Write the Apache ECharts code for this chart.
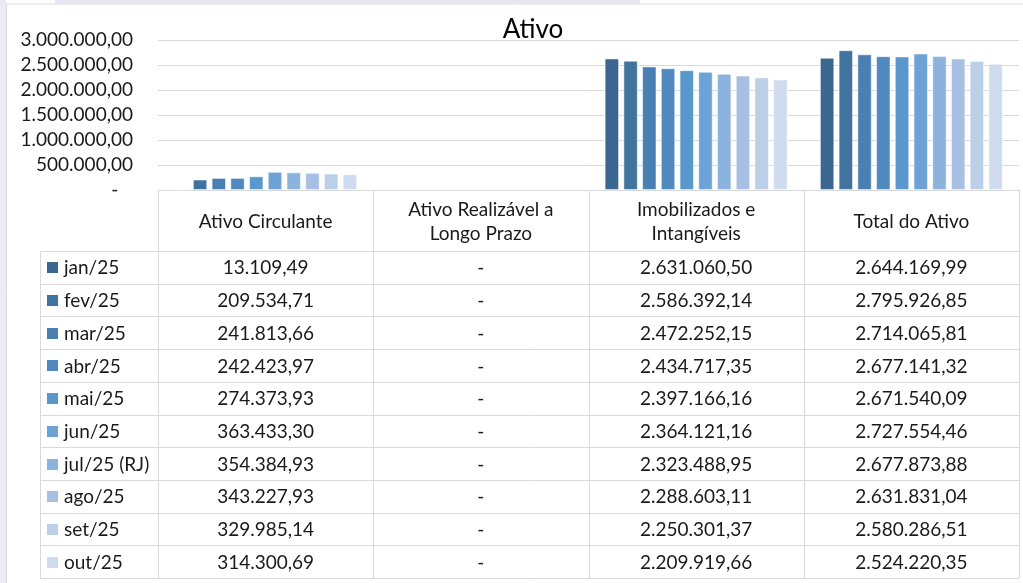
<!DOCTYPE html>
<html>
<head>
<meta charset="utf-8">
<script src="https://cdn.jsdelivr.net/npm/echarts@6/dist/echarts.min.js"></script>
<style>
  html, body { margin: 0; padding: 0; background: #fff; }
  #main { width: 1023px; height: 583px; }
</style>
</head>
<body>
<div id="main"></div>
<script>
  // categorias (colunas da tabela)
  var categorias = ['Ativo Circulante', 'Ativo Realizável a\nLongo Prazo', 'Imobilizados e\nIntangíveis', 'Total do Ativo'];
  var meses = ['jan/25', 'fev/25', 'mar/25', 'abr/25', 'mai/25', 'jun/25', 'jul/25 (RJ)', 'ago/25', 'set/25', 'out/25'];
  var circulante = [13109.49, 209534.71, 241813.66, 242423.97, 274373.93, 363433.30, 354384.93, 343227.93, 329985.14, 314300.69];
  var realizavel = [null, null, null, null, null, null, null, null, null, null];
  var imobilizados = [2631060.50, 2586392.14, 2472252.15, 2434717.35, 2397166.16, 2364121.16, 2323488.95, 2288603.11, 2250301.37, 2209919.66];
  var total = [2644169.99, 2795926.85, 2714065.81, 2677141.32, 2671540.09, 2727554.46, 2677873.88, 2631831.04, 2580286.51, 2524220.35];
  var cores = ['#3a6690', '#41739f', '#4a7fb2', '#4f89bf', '#5898cd', '#6ca2d6', '#8cb3de', '#a6bfe3', '#bccfe9', '#cfdbee'];

  var fonte = 'Lato';
  var tam = 19;
  var linha = '#d9d9d9';

  // formato pt-BR: 1.234.567,89  (zero/nulo vira "-")
  function fmt(v) {
    if (v === null || v === 0) return '-';
    var s = v.toFixed(2).split('.');
    var int = s[0].replace(/\B(?=(\d{3})+(?!\d))/g, '.');
    return int + ',' + s[1];
  }

  var gLeft = 158, gRight = 1019, gTop = 40, gBottom = 190;
  var colW = (gRight - gLeft) / categorias.length;
  var headTop = 190, rowTop = 251, rowBottom = 578, labelLeft = 40;
  var rowH = (rowBottom - rowTop) / meses.length;

  var g = [];
  // borda do gráfico / fundo
  g.push({type: 'rect', shape: {x: 0, y: 0, width: 6, height: 583}, style: {fill: '#ebebf2'}, silent: true});
  g.push({type: 'rect', shape: {x: 55, y: 0, width: 585, height: 3}, style: {fill: '#e6e6f0'}, silent: true});
  g.push({type: 'line', shape: {x1: 6, y1: 4, x2: 1023, y2: 4}, style: {stroke: linha, lineWidth: 1}, silent: true});
  g.push({type: 'line', shape: {x1: 6.5, y1: 4, x2: 6.5, y2: 583}, style: {stroke: linha, lineWidth: 1}, silent: true});

  // linhas da tabela
  g.push({type: 'line', shape: {x1: gLeft, y1: headTop + 0.5, x2: gRight, y2: headTop + 0.5}, style: {stroke: linha}});
  for (var i = 0; i <= meses.length; i++) {
    var y = Math.round(rowTop + i * rowH) + 0.5;
    g.push({type: 'line', shape: {x1: labelLeft, y1: y, x2: gRight, y2: y}, style: {stroke: linha}});
  }
  g.push({type: 'line', shape: {x1: labelLeft + 0.5, y1: rowTop, x2: labelLeft + 0.5, y2: rowBottom}, style: {stroke: linha}});
  for (var c = 0; c <= categorias.length; c++) {
    var x = Math.round(gLeft + c * colW) + 0.5;
    g.push({type: 'line', shape: {x1: x, y1: headTop, x2: x, y2: rowBottom}, style: {stroke: linha}});
  }
  // cabeçalho
  categorias.forEach(function (cat, c) {
    g.push({type: 'text', x: gLeft + (c + 0.5) * colW, y: (headTop + rowTop) / 2 + 1,
      style: {text: cat, font: tam + 'px ' + fonte, fill: '#1a1a1a', align: 'center', verticalAlign: 'middle', lineHeight: 24}});
  });
  // linhas de dados
  var colunas = [circulante, realizavel, imobilizados, total];
  meses.forEach(function (m, i) {
    var cy = rowTop + (i + 0.5) * rowH + 1;
    g.push({type: 'rect', shape: {x: 47, y: Math.round(cy - 6), width: 11, height: 11}, style: {fill: cores[i]}});
    g.push({type: 'text', x: 64, y: cy, style: {text: m, font: tam + 'px ' + fonte, fill: '#1a1a1a', align: 'left', verticalAlign: 'middle'}});
    colunas.forEach(function (col, c) {
      g.push({type: 'text', x: gLeft + (c + 0.5) * colW, y: cy,
        style: {text: fmt(col[i]), font: tam + 'px ' + fonte, fill: '#1a1a1a', align: 'center', verticalAlign: 'middle'}});
    });
  });

  var series = meses.map(function (m, i) {
    return {
      name: m,
      type: 'bar',
      data: [circulante[i], realizavel[i], imobilizados[i], total[i]],
      itemStyle: {color: cores[i], borderColor: 'rgba(255,255,255,0.5)', borderWidth: 1},
      barGap: '30%',
      barCategoryGap: '15%'
    };
  });

  var myChart = echarts.init(document.getElementById('main'));
  myChart.setOption({
    animation: false,
    backgroundColor: '#fff',
    title: {
      text: 'Ativo',
      left: 528,
      textAlign: 'center',
      top: 12,
      textStyle: {fontFamily: fonte, fontSize: 26, fontWeight: 'normal', color: '#000'}
    },
    grid: {left: gLeft, right: 1023 - gRight, top: gTop, bottom: 583 - gBottom, containLabel: false},
    xAxis: {
      type: 'category',
      data: categorias,
      axisLine: {show: false},
      axisTick: {show: false},
      axisLabel: {show: false}
    },
    yAxis: {
      type: 'value',
      min: 0,
      max: 3000000,
      interval: 500000,
      axisLine: {show: false},
      axisTick: {show: false},
      splitLine: {lineStyle: {color: linha, width: 1}},
      axisLabel: {
        margin: 25,
        fontFamily: fonte,
        fontSize: tam,
        color: '#1a1a1a',
        formatter: function (v) { return v === 0 ? '-   ' : fmt(v); }
      }
    },
    series: series,
    graphic: g
  });
</script>
</body>
</html>
